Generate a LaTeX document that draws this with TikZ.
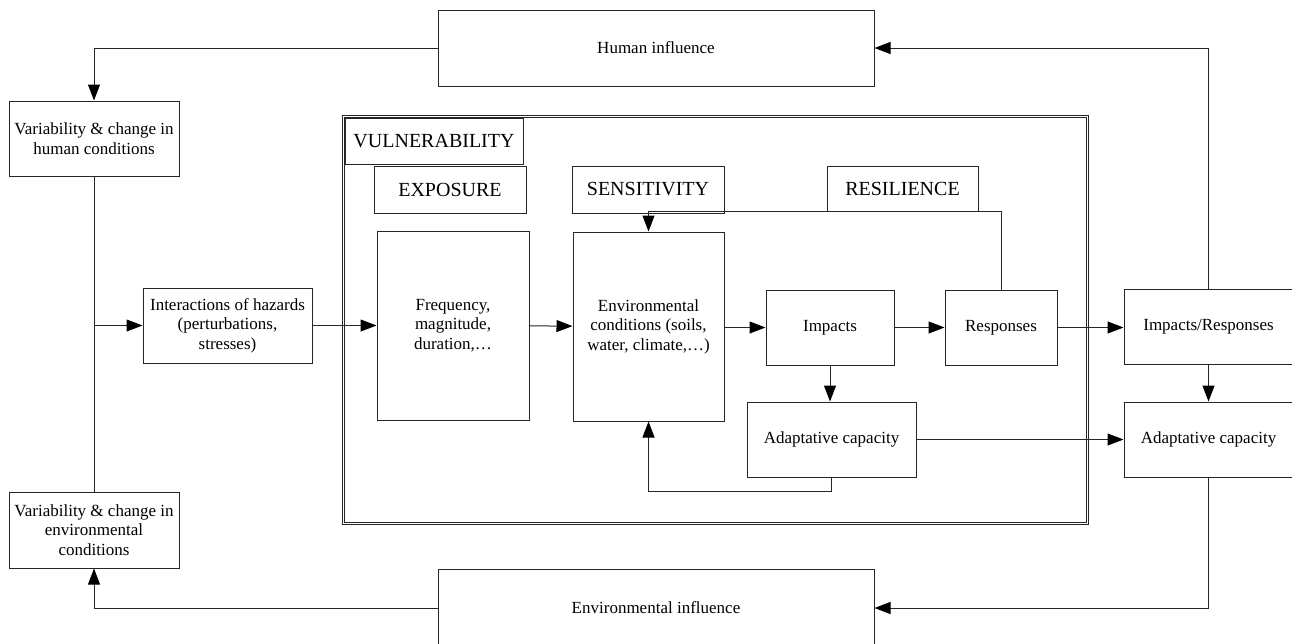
\documentclass[tikz,border=0pt]{standalone}
\usepackage{fontspec}
\setmainfont{Liberation Serif}
\usepackage{tikz}
\usetikzlibrary{arrows.meta}
\tikzstyle{box}=[draw=black!85, line width=1pt, rectangle, inner sep=0pt, align=center, font=\fontsize{17}{19.5}\selectfont]
\tikzstyle{head}=[box, font=\fontsize{20}{22}\selectfont]
\tikzstyle{frame}=[draw=black!85, line width=0.9pt, double, double distance=1.2pt, rectangle, inner sep=0pt]
\tikzstyle{arrow}=[draw=black!85, line width=1pt, >={Triangle[length=16pt, width=12pt, fill=black, color=black]}]

\begin{document}
\begin{tikzpicture}[x=1pt, y=-1pt]
		   \useasboundingbox (0,0) rectangle (1292,643);
		   \begin{scope}
			   \node (vul) at (715.5, 320)[frame, minimum width=744, minimum height=407] {};
			   \node (tab) at (434, 141)[head, minimum width=178, minimum height=46] {VULNERABILITY};
			   \node (expo) at (450, 189.5)[head, minimum width=152, minimum height=47] {EXPOSURE};
			   \node (sens) at (648, 189.5)[head, minimum width=152, minimum height=47] {SENSITIVITY};
			   \node (resil) at (902.5, 188.5)[head, minimum width=151, minimum height=45] {RESILIENCE};
			   \node (hum) at (656, 48)[box, minimum width=436, minimum height=76] {Human influence};
			   \node (envinf) at (656, 608)[box, minimum width=436, minimum height=78] {Environmental influence};
			   \node (hvar) at (94, 138.5)[box, minimum width=170, minimum height=75] {Variability \& change in\\human conditions};
			   \node (evar) at (94, 530)[box, minimum width=170, minimum height=76] {Variability \& change in\\environmental\\conditions};
			   \node (haz) at (227.5, 325.5)[box, minimum width=169, minimum height=75] {Interactions of hazards\\(perturbations,\\stresses)};
			   \node (freq) at (453, 325.5)[box, minimum width=152, minimum height=189] {Frequency,\\magnitude,\\duration,\ldots};
			   \node (envc) at (648.5, 326.5)[box, minimum width=151, minimum height=189] {Environmental\\conditions (soils,\\water, climate,\ldots)};
			   \node (imp) at (830, 327.5)[box, minimum width=128, minimum height=75] {Impacts};
			   \node (resp) at (1001, 327.5)[box, minimum width=112, minimum height=75] {Responses};
			   \node (adap) at (831.5, 439.5)[box, minimum width=169, minimum height=75] {Adaptative capacity};
			   \node (impr) at (1208.5, 326.5)[box, minimum width=169, minimum height=75] {Impacts/Responses};
			   \node (adapr) at (1208.5, 439.5)[box, minimum width=169, minimum height=75] {Adaptative capacity};
		   \end{scope}
		   \begin{scope}
			   \draw [arrow, ->] (hum.west) -| (hvar.north);
			   \path (hvar.south) edge [arrow, -] (evar.north);
			   \path (hvar.south |- haz.west) edge [arrow, ->] (haz.west);
			   \draw [arrow, ->] (envinf.west) -| (evar.south);
			   \path (haz) edge [arrow, ->] (freq);
			   \path (freq) edge [arrow, ->] (envc);
			   \path (envc.east |- imp.west) edge [arrow, ->] (imp.west);
			   \path (imp) edge [arrow, ->] (resp);
			   \path (resp.east) edge [arrow, ->] (resp.east -| impr.west);
			   \path (imp.south) edge [arrow, ->] (imp.south |- adap.north);
			   \path (impr) edge [arrow, ->] (adapr);
			   \path (adap.east) edge [arrow, ->] (adap.east -| adapr.west);
			   \draw [arrow, ->] (resp.north) -- (resp.north |- resil.south) -| (envc.north);
			   \draw [arrow, ->] (adap.south) -- ++(0,14) -| (envc.south);
			   \draw [arrow, ->] (impr.north) |- (hum.east);
			   \draw [arrow, ->] (adapr.south) |- (envinf.east);
		   \end{scope}
	   \end{tikzpicture}
\end{document}
